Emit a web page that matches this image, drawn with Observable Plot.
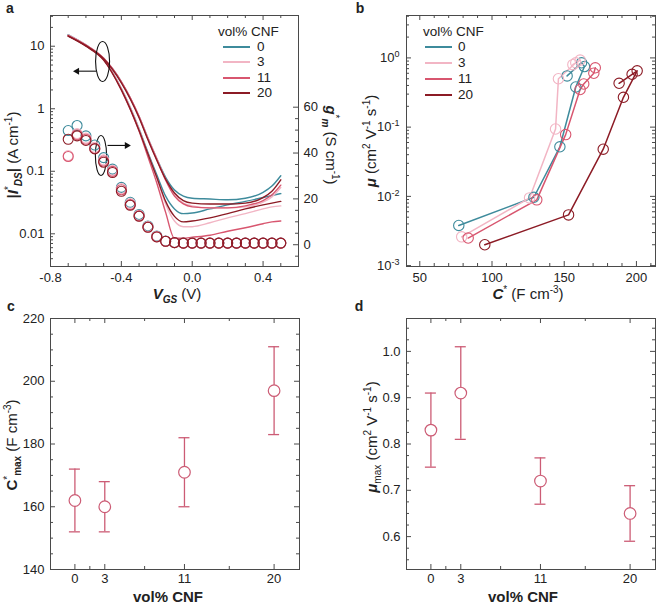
<!DOCTYPE html>
<html><head><meta charset="utf-8">
<script src="https://cdn.jsdelivr.net/npm/d3@7"></script>
<script src="https://cdn.jsdelivr.net/npm/@observablehq/plot@0.6"></script>
<style>
html,body{margin:0;padding:0;background:#fff}
#fig{position:relative;width:657px;height:604px;overflow:hidden;font-family:Arial,"Liberation Sans",Helvetica,sans-serif;color:#222}
#fig svg{position:absolute}
.lab{position:absolute;white-space:nowrap;font-size:15px;line-height:1}
.lab sup,.lab sub{font-size:10px;line-height:0}
.leg{position:absolute;font-size:13.5px;line-height:1;white-space:nowrap;transform:translateY(-50%)}
.legline{position:absolute;height:2px;transform:translateY(-50%)}
</style></head><body><div id="fig"></div>
<script>
// ---------------- data ----------------
const series = ["0", "3", "11", "20"];
const seriesColors = ["#3e8b9c", "#f2b5c4", "#d8566f", "#8c1b25"];

// panel a : |I*DS| transfer curves (two sweep branches per sample)
const vCurve = [-0.7, -0.6, -0.5, -0.4, -0.3, -0.25, -0.2, -0.15, -0.1, -0.05, 0, 0.1, 0.2, 0.3, 0.4, 0.45, 0.5];
const idsEarly0  = [15.2, 10.3, 6.2, 2.1, 0.48, 0.2, 0.088, 0.040, 0.025, 0.021, 0.0215, 0.025, 0.029, 0.033, 0.038, 0.041, 0.044];
const idsEarly3  = [15.0, 10.3, 6.2, 2.1, 0.47, 0.19, 0.078, 0.030, 0.016, 0.013, 0.013, 0.015, 0.018, 0.021, 0.025, 0.027, 0.028];
const idsEarly11 = [14.8, 10.2, 6.1, 2.0, 0.44, 0.17, 0.065, 0.022, 0.0085, 0.0085, 0.0088, 0.0095, 0.011, 0.0125, 0.0145, 0.0155, 0.016];
const idsEarly20 = [14.5, 10.0, 6.0, 2.0, 0.45, 0.19, 0.080, 0.033, 0.019, 0.0155, 0.016, 0.018, 0.021, 0.025, 0.029, 0.031, 0.033];
const idsLate0   = [15.2, 10.5, 6.4, 2.7, 0.75, 0.34, 0.16, 0.080, 0.050, 0.040, 0.037, 0.036, 0.035, 0.037, 0.046, 0.058, 0.085];
const idsLate3   = [15.0, 10.5, 6.4, 2.7, 0.76, 0.34, 0.16, 0.075, 0.042, 0.031, 0.028, 0.026, 0.026, 0.027, 0.032, 0.039, 0.055];
const idsLate11  = [14.8, 10.4, 6.4, 2.7, 0.75, 0.33, 0.155, 0.072, 0.040, 0.030, 0.027, 0.026, 0.026, 0.028, 0.034, 0.042, 0.060];
const idsLate20  = [14.5, 10.2, 6.3, 2.6, 0.72, 0.32, 0.15, 0.075, 0.045, 0.034, 0.031, 0.030, 0.030, 0.031, 0.038, 0.048, 0.073];

// panel a : g*m (right axis)
const vGm = [-0.7, -0.65, -0.6, -0.55, -0.5, -0.45, -0.4, -0.35, -0.3, -0.25, -0.2, -0.15, -0.1, -0.05, 0, 0.05, 0.1, 0.15, 0.2, 0.25, 0.3, 0.35, 0.4, 0.45, 0.5];
const gm0  = [49.8, 52, 47.5, 43.5, 38, 33, 25, 18.5, 13.2, 8.2, 3.8, 1.6, 0.9, 0.7, 0.7, 0.7, 0.7, 0.7, 0.7, 0.7, 0.7, 0.7, 0.7, 0.7, 0.7];
const gm3  = [38.9, 48.5, 46.5, 42.5, 37, 32.5, 24.5, 18, 12.8, 7.9, 3.6, 1.5, 0.9, 0.7, 0.7, 0.7, 0.7, 0.7, 0.7, 0.7, 0.7, 0.7, 0.7, 0.7, 0.7];
const gm11 = [38.5, 48, 46, 42, 36.5, 32, 24, 17.5, 12.6, 7.7, 3.5, 1.5, 0.9, 0.7, 0.7, 0.7, 0.7, 0.7, 0.7, 0.7, 0.7, 0.7, 0.7, 0.7, 0.7];
const gm20 = [46, 47.5, 45.5, 41.8, 36, 31.5, 23.3, 17.2, 12.4, 7.6, 3.4, 1.5, 0.9, 0.7, 0.7, 0.7, 0.7, 0.7, 0.7, 0.7, 0.7, 0.7, 0.7, 0.7, 0.7];

// panel a annotations (ellipses and arrows, in data units)
const ellipseV = [-0.506, -0.515];
const ellipseI = [5.7, 0.179];
const arrowFromV = [-0.543, -0.478];
const arrowToV = [-0.65, -0.369];
const arrowI = [3.99, 0.259];

// panel b : mobility vs volumetric capacitance
const capB0  = [77, 129, 147, 158, 164, 162, 152];
const muB0   = [0.0038, 0.0097, 0.052, 0.38, 0.75, 0.85, 0.55];
const capB3  = [79, 126, 144, 146, 158, 161, 156];
const muB3   = [0.0026, 0.0095, 0.094, 0.5, 0.85, 0.93, 0.8];
const capB11 = [83.5, 131, 151, 161, 163.5, 170.5, 171.5];
const muB11  = [0.0025, 0.0089, 0.078, 0.35, 0.42, 0.6, 0.72];
const capB20 = [95, 153, 177, 191, 200.5, 197, 188];
const muB20  = [0.002, 0.0054, 0.048, 0.27, 0.65, 0.58, 0.43];

// panels c, d
const cnf = [0, 3, 11, 20];
const cMax = [162, 160, 171, 197];
const cMaxLo = [152, 152, 160, 183];
const cMaxHi = [172, 168, 182, 211];
const muMax = [0.83, 0.91, 0.72, 0.65];
const muMaxLo = [0.75, 0.81, 0.67, 0.59];
const muMaxHi = [0.91, 1.01, 0.77, 0.71];
const errColor = "#cc5c75";

// tick labels
const aXTicks = [-0.8, -0.4, 0.0, 0.4];
const aYTicks = [0.01, 0.1, 1, 10];
const aGmTicks = [0, 20, 40, 60];
const bXTicks = [50, 100, 150, 200];
const bYTicks = [0.001, 0.01, 0.1, 1];
const cYTicks = [140, 160, 180, 200, 220];
const dYTicks = [0.6, 0.7, 0.8, 0.9, 1.0];
const cnfTickLabels = [0, 3, 11, 20];

// ---------------- helpers ----------------
const fig = document.getElementById("fig");
const AX = "#4a4a4a";
const baseStyle = {fontFamily: 'Arial,"Liberation Sans",sans-serif', fontSize: "13px", background: "transparent", color: "#222", overflow: "visible"};
const colorScale = {domain: series, range: seriesColors};

function place(svg, left, top) { svg.style.left = left + "px"; svg.style.top = top + "px"; fig.appendChild(svg); return svg; }
function label(html, x, y, rot = 0, extra = "") {
  const d = document.createElement("div"); d.className = "lab"; d.innerHTML = html;
  d.style.left = x + "px"; d.style.top = y + "px";
  d.style.transform = `translate(-50%,-50%) rotate(${rot}deg)`;
  if (extra) d.style.cssText += extra;
  fig.appendChild(d);
}
function legend(left, titleY, rows, lineX1, lineX2, textX) {
  const t = document.createElement("div"); t.className = "leg"; t.textContent = "vol% CNF";
  t.style.left = left + "px"; t.style.top = titleY + "px"; fig.appendChild(t);
  series.forEach((s, k) => {
    const l = document.createElement("div"); l.className = "legline";
    l.style.left = lineX1 + "px"; l.style.width = (lineX2 - lineX1) + "px"; l.style.top = rows[k] + "px";
    l.style.background = seriesColors[k]; fig.appendChild(l);
    const tx = document.createElement("div"); tx.className = "leg"; tx.textContent = s;
    tx.style.left = textX + "px"; tx.style.top = rows[k] + "px"; fig.appendChild(tx);
  });
}
function xTickMarks(vals, len, innerH, top = true) {
  const m = [Plot.ruleX(vals, {x: d => d, insetTop: innerH - len, stroke: AX})];
  if (top) m.push(Plot.ruleX(vals, {x: d => d, insetBottom: innerH - len, stroke: AX}));
  return m;
}
function yTickMarks(vals, len, innerW, left = true, right = true) {
  const m = [];
  if (left) m.push(Plot.ruleY(vals, {y: d => d, insetRight: innerW - len, stroke: AX}));
  if (right) m.push(Plot.ruleY(vals, {y: d => d, insetLeft: innerW - len, stroke: AX}));
  return m;
}
function logMinor(lo, hi) {
  const out = [];
  for (let e = -4; e <= 2; e++) for (let m = 2; m <= 9; m++) { const v = m * Math.pow(10, e); if (v >= lo && v <= hi) out.push(v); }
  return out;
}
function steps(lo, hi, st) { const out = []; for (let v = lo; v <= hi + 1e-9; v += st) out.push(+v.toFixed(6)); return out; }
function ellipseSymbol(ratio) {
  return {draw(ctx, size) {
    const r = Math.sqrt(size / Math.PI), rx = r * ratio, ry = r, k = 0.5523;
    ctx.moveTo(rx, 0);
    ctx.bezierCurveTo(rx, ry * k, rx * k, ry, 0, ry);
    ctx.bezierCurveTo(-rx * k, ry, -rx, ry * k, -rx, 0);
    ctx.bezierCurveTo(-rx, -ry * k, -rx * k, -ry, 0, -ry);
    ctx.bezierCurveTo(rx * k, -ry, rx, -ry * k, rx, 0);
    ctx.closePath();
  }};
}

// ---------------- panel a ----------------
const A = {w: 340, h: 300, ml: 50, mr: 42, mt: 15, mb: 34};
const aIW = A.w - A.ml - A.mr, aIH = A.h - A.mt - A.mb;
const curveRows = [];
[["0", idsEarly0, idsLate0], ["3", idsEarly3, idsLate3], ["11", idsEarly11, idsLate11], ["20", idsEarly20, idsLate20]].forEach(([s, e, l]) => {
  vCurve.forEach((v, j) => curveRows.push({v, i: e[j], s, b: s + "e"}));
  vCurve.forEach((v, j) => curveRows.push({v, i: l[j], s, b: s + "l"}));
});
const ellRows = ellipseV.map((v, k) => ({v, i: ellipseI[k]}));
const arrowRows = arrowFromV.map((v, k) => ({v1: v, v2: arrowToV[k], i: arrowI[k]}));

const plotA = Plot.plot({
  width: A.w, height: A.h, marginLeft: A.ml, marginRight: A.mr, marginTop: A.mt, marginBottom: A.mb,
  style: baseStyle,
  x: {domain: [-0.8, 0.6]},
  y: {type: "log", domain: [0.003, 31]},
  color: colorScale,
  marks: [
    Plot.line(curveRows, {x: "v", y: "i", z: "b", stroke: "s", strokeWidth: 1.4, curve: "monotone-x"}),
    Plot.dot([ellRows[0]], {x: "v", y: "i", r: 20, symbol: ellipseSymbol(0.35), stroke: "#111", strokeWidth: 1.1, fill: "none"}),
    Plot.dot([ellRows[1]], {x: "v", y: "i", r: 20, symbol: ellipseSymbol(0.28), stroke: "#111", strokeWidth: 1.1, fill: "none"}),
    Plot.link(arrowRows, {x1: "v1", x2: "v2", y1: "i", y2: "i", stroke: "#111", strokeWidth: 1.1}),
    Plot.dot(arrowRows, {x: "v2", y: "i", symbol: "triangle", rotate: d => d.v2 < d.v1 ? -90 : 90, r: 2.6, fill: "#111", stroke: "none"}),
    Plot.frame({stroke: AX}),
    ...xTickMarks(aXTicks, 5, aIH),
    ...xTickMarks(steps(-0.7, 0.5, 0.1).filter(v => !aXTicks.some(t => Math.abs(t - v) < 1e-6)), 3, aIH),
    ...yTickMarks(aYTicks, 5, aIW, true, false),
    ...yTickMarks(logMinor(0.003, 31), 3, aIW, true, false),
    Plot.axisX({ticks: aXTicks, tickSize: 0, tickPadding: 6, tickFormat: d => d.toFixed(1), label: null}),
    Plot.axisY({ticks: aYTicks, tickSize: 0, tickPadding: 6, tickFormat: d => String(d), label: null})
  ]
});
place(plotA, 0, 0);

const gmRows = [];
[["0", gm0], ["3", gm3], ["11", gm11], ["20", gm20]].forEach(([s, arr]) => arr.forEach((g, j) => gmRows.push({v: vGm[j], g, s})));
const plotAgm = Plot.plot({
  width: A.w, height: A.h, marginLeft: A.ml, marginRight: A.mr, marginTop: A.mt, marginBottom: A.mb,
  style: baseStyle,
  x: {domain: [-0.8, 0.6], axis: null},
  y: {domain: [-9.5, 100]},
  color: colorScale,
  marks: [
    Plot.dot(gmRows, {x: "v", y: "g", stroke: "s", r: 5, strokeWidth: 1.1, fill: "none"}),
    ...yTickMarks(aGmTicks, 5, aIW, false, true),
    ...yTickMarks(steps(-5, 55, 5).filter(v => v % 20 !== 0), 3, aIW, false, true),
    Plot.axisY({anchor: "right", ticks: aGmTicks, tickSize: 0, tickPadding: 5, label: null})
  ]
});
place(plotAgm, 0, 0);

// ---------------- panel b ----------------
const B = {w: 327, h: 300, ml: 76, mr: 2, mt: 15, mb: 34};
const bIW = B.w - B.ml - B.mr, bIH = B.h - B.mt - B.mb;
const bRows = [];
[["0", capB0, muB0], ["3", capB3, muB3], ["11", capB11, muB11], ["20", capB20, muB20]].forEach(([s, c, m]) => c.forEach((cv, j) => bRows.push({c: cv, m: m[j], s})));
const plotB = Plot.plot({
  width: B.w, height: B.h, marginLeft: B.ml, marginRight: B.mr, marginTop: B.mt, marginBottom: B.mb,
  style: baseStyle,
  x: {domain: [40.8, 213.2]},
  y: {type: "log", domain: [0.00097, 4.1]},
  color: colorScale,
  marks: [
    Plot.line(bRows, {x: "c", y: "m", z: "s", stroke: "s", strokeWidth: 1.5}),
    Plot.dot(bRows, {x: "c", y: "m", stroke: "s", r: 5.2, strokeWidth: 1.1, fill: "none"}),
    Plot.frame({stroke: AX}),
    ...xTickMarks(bXTicks, 5, bIH),
    ...xTickMarks(steps(50, 210, 10).filter(v => v % 50 !== 0), 3, bIH),
    ...yTickMarks(bYTicks, 5, bIW),
    ...yTickMarks(logMinor(0.001, 4.1), 3, bIW),
    Plot.axisX({ticks: bXTicks, tickSize: 0, tickPadding: 6, label: null}),
    Plot.axisY({ticks: bYTicks, tickSize: 0, tickPadding: 7, tickFormat: d => "10^" + Math.round(Math.log10(d)), label: null})
  ]
});
place(plotB, 330, 0);
d3.select(plotB).selectAll('[aria-label="y-axis tick label"] text').each(function () {
  const parts = this.textContent.split("^");
  const s = d3.select(this); s.text(parts[0]);
  s.append("tspan").attr("dy", "-0.55em").attr("font-size", "9px").text(parts[1]);
});

// ---------------- panels c, d ----------------
function errPanel(vals, lo, hi, yDomain, yTicks, yMinor, fmt, M) {
  const iW = M.w - M.ml - M.mr, iH = M.h - M.mt - M.mb;
  const rows = cnf.map((x, k) => ({x, y: vals[k], lo: lo[k], hi: hi[k]}));
  return Plot.plot({
    width: M.w, height: M.h, marginLeft: M.ml, marginRight: M.mr, marginTop: M.mt, marginBottom: M.mb,
    style: baseStyle,
    x: {domain: [-2.45, 22.55]},
    y: {domain: yDomain},
    marks: [
      Plot.ruleX(rows, {x: "x", y1: "lo", y2: "hi", stroke: errColor, strokeWidth: 1.3}),
      Plot.ruleY(rows, {y: "hi", x1: "x", x2: "x", insetLeft: -5.5, insetRight: -5.5, stroke: errColor, strokeWidth: 1.3}),
      Plot.ruleY(rows, {y: "lo", x1: "x", x2: "x", insetLeft: -5.5, insetRight: -5.5, stroke: errColor, strokeWidth: 1.3}),
      Plot.dot(rows, {x: "x", y: "y", r: 5.8, stroke: errColor, strokeWidth: 1.2, fill: "white"}),
      Plot.frame({stroke: AX}),
      ...xTickMarks(cnfTickLabels, 5, iH),
      ...xTickMarks([1.5, 7, 15.5], 3, iH),
      ...yTickMarks(yTicks, 5, iW),
      ...yTickMarks(yMinor, 3, iW),
      Plot.axisX({ticks: cnfTickLabels, tickSize: 0, tickPadding: 4, label: null}),
      Plot.axisY({ticks: yTicks, tickSize: 0, tickPadding: 6, tickFormat: fmt, label: null})
    ]
  });
}
const C = {w: 330, h: 314, ml: 50, mr: 31, mt: 28, mb: 35};
place(errPanel(cMax, cMaxLo, cMaxHi, [140, 220], cYTicks, steps(145, 215, 5).filter(v => v % 20 !== 0), d => String(d), C), 0, 290);
const D = {w: 327, h: 314, ml: 76, mr: 2, mt: 28, mb: 35};
place(errPanel(muMax, muMaxLo, muMaxHi, [0.529, 1.071], dYTicks, [0.55, 0.575, 0.625, 0.65, 0.675, 0.725, 0.75, 0.775, 0.825, 0.85, 0.875, 0.925, 0.95, 0.975, 1.025, 1.05], d => d.toFixed(1), D), 330, 290);

// ---------------- text: titles, legends, letters ----------------
label("<b><i>V</i></b><sub><b><i>GS</i></b></sub> (V)", 177, 293);
label("<b>|<i>I</i></b><sup>*</sup><sub><b><i>DS</i></b></sub><b>|</b> (A cm<sup>-1</sup>)", 12, 155, -90);
label("<b><i>g</i></b><sup>*</sup><sub><b><i>m</i></b></sub> (S cm<sup>-1</sup>)", 331, 145, 90);
label("<b><i>C</i></b><sup>*</sup> (F cm<sup>-3</sup>)", 528, 293);
label("<b><i>μ</i></b> (cm<sup>2</sup> V<sup>-1</sup> s<sup>-1</sup>)", 370, 141, -90);
label("<b>vol% CNF</b>", 168, 596);
label("<b>C</b><sup>*</sup><sub><b>max</b></sub> (F cm<sup>-3</sup>)", 11, 445, -90);
label("<b>vol% CNF</b>", 523, 596);
label("<b><i>μ</i></b><sub>max</sub> (cm<sup>2</sup> V<sup>-1</sup> s<sup>-1</sup>)", 371, 437, -90);
label("<b>a</b>", 10, 8, 0, "font-size:14px");
label("<b>b</b>", 360, 8, 0, "font-size:14px");
label("<b>c</b>", 11, 306, 0, "font-size:14px");
label("<b>d</b>", 359, 306, 0, "font-size:14px");

legend(218, 32, [46.7, 62.3, 78.3, 93.3], 222.7, 250, 257);
legend(423, 32, [47.3, 63.3, 79.3, 95], 425, 452, 458);
</script></body></html>
